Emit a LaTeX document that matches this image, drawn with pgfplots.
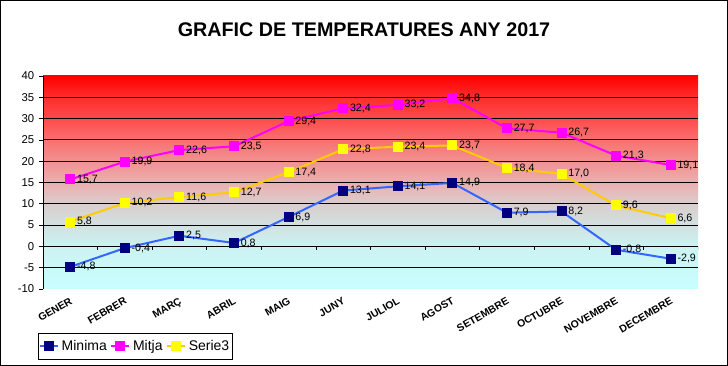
\documentclass[border=0pt]{standalone}
\usepackage{pgfplots}
\pgfplotsset{compat=1.18}
\usepackage{fontspec}
\setmainfont{Liberation Sans}
\definecolor{c10m}{RGB}{200,255,255}
\definecolor{c0}{RGB}{205,242,242}
\definecolor{c5}{RGB}{210,225,225}
\definecolor{c10}{RGB}{218,205,205}
\definecolor{c15}{RGB}{236,175,175}
\definecolor{c20}{RGB}{242,145,145}
\definecolor{c25}{RGB}{248,112,112}
\definecolor{c30}{RGB}{255,75,75}
\definecolor{c35}{RGB}{255,45,45}
\definecolor{c40}{RGB}{255,0,0}
\pgfdeclareverticalshading{tempbg}{100bp}{color(0bp)=(c10m); color(25bp)=(c10m); color(35bp)=(c0); color(40bp)=(c5); color(45bp)=(c10); color(50bp)=(c15); color(55bp)=(c20); color(60bp)=(c25); color(65bp)=(c30); color(70bp)=(c35); color(75bp)=(c40); color(100bp)=(c40)}
\definecolor{minline}{RGB}{51,102,255}
\definecolor{minmark}{RGB}{0,0,128}
\definecolor{mitja}{RGB}{255,0,255}
\definecolor{s3line}{RGB}{255,204,0}
\definecolor{s3mark}{RGB}{255,255,0}
\begin{document}
\begin{tikzpicture}
\draw[line width=0.75pt] (0.375pt,0.375pt) rectangle (545.6pt,274.1pt);
\node[font=\bfseries\fontsize{14.8}{17}\selectfont] at (273pt,252pt) {GRAFIC DE TEMPERATURES ANY 2017};
\begin{axis}[
  at={(32.25pt,57.75pt)}, anchor=south west,
  scale only axis, width=491.25pt, height=159.75pt,
  xmin=-0.5, xmax=11.5, ymin=-10, ymax=40,
  axis background/.style={shading=tempbg},
  axis x line*=bottom, axis y line*=left,
  x axis line style={draw=none},
  y axis line style={black, line width=0.6pt},
  xtick={0,...,11},
  xticklabels={GENER,FEBRER,MAR\c{C},ABRIL,MAIG,JUNY,JULIOL,AGOST,SETEMBRE,OCTUBRE,NOVEMBRE,DECEMBRE},
  x tick label style={font=\bfseries\fontsize{7.8}{9}\selectfont, rotate=30, anchor=north east, yshift=-1pt, xshift=-1pt, inner sep=1pt},
  x tick style={draw=none},
  ytick={-10,-5,...,40},
  y tick label style={font=\fontsize{8.5}{10}\selectfont},
  y tick style={black, line width=0.5pt},
  tick align=outside, major tick length=3pt,
  extra y ticks={-5,0,...,35}, extra y tick labels={},
  extra y tick style={grid=major, major tick length=0pt},
  grid style={black, line width=0.6pt},
  /pgf/number format/assume math mode=true,
  nodes near coords={\pgfmathprintnumber[fixed,fixed zerofill,precision=1,use comma]{\pgfplotspointmeta}},
  nodes near coords style={font=\fontsize{8}{9}\selectfont, anchor=west, xshift=1pt, text=black},
  legend columns=3,
  legend image code/.code={\draw[mark repeat=2,mark phase=2] plot coordinates {(0cm,0cm) (0.24cm,0cm) (0.48cm,0cm)};},
  legend style={at={(-0.008,-0.207)}, anchor=north west, draw=black, line width=0.6pt, font=\fontsize{10.5}{12}\selectfont, inner xsep=0.5pt, inner ysep=3.2pt, /tikz/every even column/.append style={column sep=0.5pt}, /tikz/every odd column/.append style={column sep=0pt}},
  legend cell align=left,
]
\pgfplotsinvokeforeach{-0.5,0.5,1.5,2.5,3.5,4.5,5.5,6.5,7.5,8.5,9.5,10.5,11.5}{\draw[black, line width=0.5pt] (axis cs:#1,0) -- ++(0pt,-2.5pt);}
\addplot[minline, line width=1.5pt, mark=square*, mark size=3pt, mark options={fill=minmark, draw=minmark}] coordinates {
(0,-4.8) (1,-0.4) (2,2.5) (3,0.8) (4,6.9) (5,13.1) (6,14.1) (7,14.9) (8,7.9) (9,8.2) (10,-0.8) (11,-2.9)};
\addlegendentry{Minima}
\addplot[mitja, line width=1.5pt, mark=square*, mark size=3pt, mark options={fill=mitja, draw=mitja}] coordinates {
(0,15.7) (1,19.9) (2,22.6) (3,23.5) (4,29.4) (5,32.4) (6,33.2) (7,34.8) (8,27.7) (9,26.7) (10,21.3) (11,19.1)};
\addlegendentry{Mitja}
\addplot[s3line, line width=1.5pt, mark=square*, mark size=3pt, mark options={fill=s3mark, draw=s3mark}] coordinates {
(0,5.8) (1,10.2) (2,11.6) (3,12.7) (4,17.4) (5,22.8) (6,23.4) (7,23.7) (8,18.4) (9,17.0) (10,9.6) (11,6.6)};
\addlegendentry{Serie3}
\end{axis}
\end{tikzpicture}
\end{document}
